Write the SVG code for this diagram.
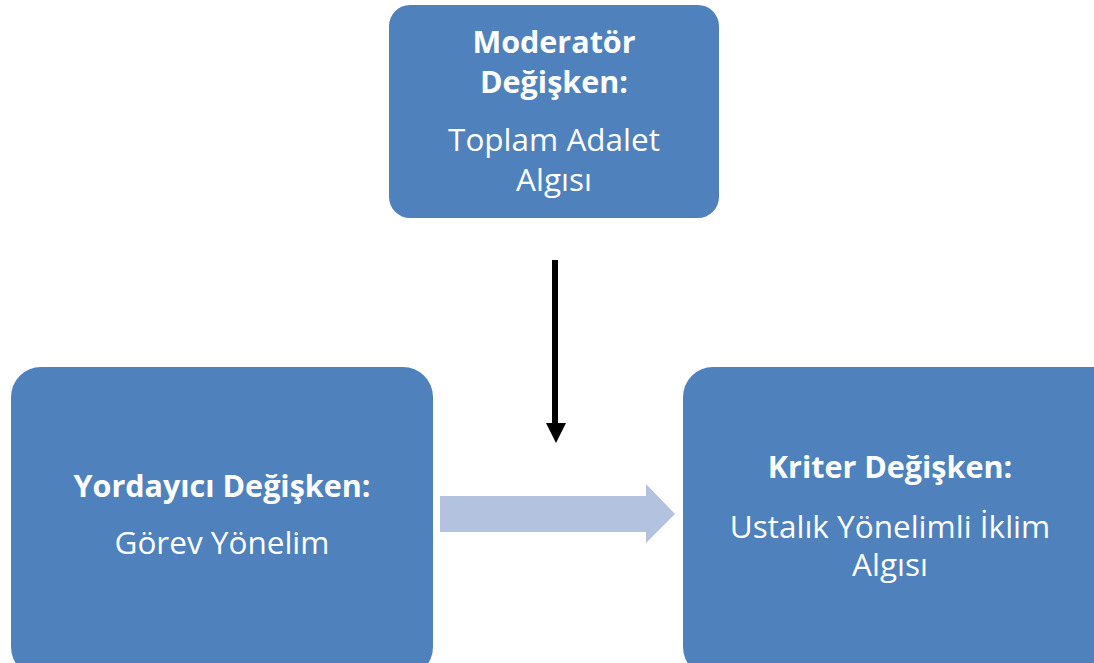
<svg xmlns="http://www.w3.org/2000/svg" width="1094" height="663" viewBox="0 0 1094 663">
<style>
.box{fill:#4F81BD}
text{font-family:"Open Sans","Noto Sans",sans-serif;fill:#fff;text-anchor:middle;font-size:31.5px}
.b{font-weight:bold;font-size:30.5px}
</style>
<rect width="1094" height="663" fill="#fff"/>
<g id="moderator">
<rect class="box" x="389" y="5" width="330" height="213" rx="21"/>
<text class="b" x="554" y="53">Moderatör</text>
<text class="b" x="554" y="93">Değişken:</text>
<text x="554" y="151">Toplam Adalet</text>
<text x="554" y="191">Algısı</text>
</g>
<g id="yordayici">
<rect class="box" x="11" y="367" width="422" height="310" rx="30"/>
<text class="b" x="222" y="497">Yordayıcı Değişken:</text>
<text x="222" y="554">Görev Yönelim</text>
</g>
<g id="kriter">
<rect class="box" x="683" y="367" width="440" height="310" rx="30"/>
<text class="b" x="890" y="478">Kriter Değişken:</text>
<text x="890" y="538">Ustalık Yönelimli İklim</text>
<text x="890" y="576">Algısı</text>
</g>
<g id="connectors">
<line x1="555" y1="260" x2="555" y2="425" stroke="#000" stroke-width="6"/>
<polygon points="546,423 566,423 556,443" fill="#000"/>
<polygon points="440,496 646,496 646,484 675,514 646,543 646,532 440,532" fill="#B3C2DE"/>
</g>
</svg>
